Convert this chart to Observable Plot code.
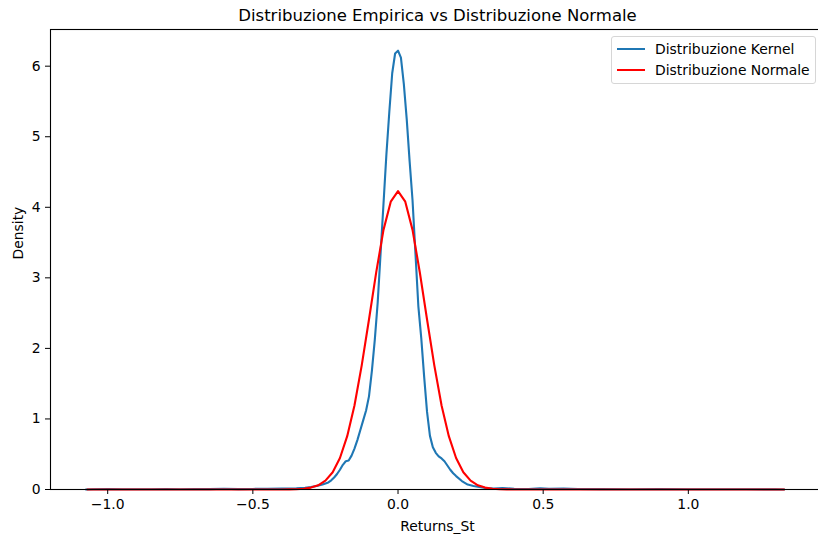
<!DOCTYPE html>
<html>
<head>
<meta charset="utf-8">
<script src="https://cdn.jsdelivr.net/npm/d3@7"></script>
<script src="https://cdn.jsdelivr.net/npm/@observablehq/plot@0.6"></script>
<style>
html, body { margin: 0; padding: 0; overflow: hidden; background: #fff; }
#wrap { position: relative; width: 818px; height: 535px; overflow: hidden; }
#wrap svg { max-width: none !important; display: block; }
#legend { position: absolute; left: 611px; top: 36px; width: 205px; height: 48px; box-sizing: border-box;
  border: 1px solid #d6d6d6; border-radius: 3px; background: rgba(255,255,255,0.85);
  font-family: "DejaVu Sans", sans-serif; font-size: 13.9px; color: #000; }
.row { position: absolute; left: 0; height: 20px; display: flex; align-items: center; }
.sw { width: 28px; height: 2px; margin-left: 5px; margin-right: 10px; }
</style>
</head>
<body>
<div id="wrap"><div id="legend"></div></div>
<script>
const titleText = "Distribuzione Empirica vs Distribuzione Normale";
const xLabel = "Returns_St";
const yLabel = "Density";
const seriesNames = ["Distribuzione Kernel", "Distribuzione Normale"];
const seriesColors = ["#1f77b4", "red"];
const xTicks = [-1.0, -0.5, 0.0, 0.5, 1.0];
const yTicks = [0, 1, 2, 3, 4, 5, 6];

const kernelX = [-1.075,-1.05,-1.0,-0.95,-0.9,-0.85,-0.8,-0.75,-0.7,-0.65,-0.6,-0.55,-0.5,-0.45,-0.4,-0.35,-0.32,-0.3,-0.28,-0.26,-0.24,-0.23,-0.22,-0.21,-0.2,-0.19,-0.18,-0.17,-0.16,-0.15,-0.14,-0.13,-0.12,-0.11,-0.1,-0.09,-0.08,-0.07,-0.06,-0.05,-0.04,-0.03,-0.02,-0.01,0.0,0.01,0.02,0.03,0.04,0.05,0.06,0.07,0.08,0.09,0.1,0.11,0.12,0.13,0.14,0.15,0.16,0.17,0.18,0.19,0.2,0.22,0.24,0.26,0.28,0.3,0.33,0.36,0.4,0.45,0.49,0.52,0.57,0.62,0.7,0.8,0.9,1.0,1.1,1.2,1.3,1.33];
const kernelY = [0.0,0.004,0.005,0.003,0.004,0.003,0.005,0.004,0.006,0.005,0.01,0.006,0.008,0.01,0.012,0.018,0.025,0.035,0.05,0.07,0.10,0.13,0.17,0.22,0.28,0.35,0.40,0.41,0.48,0.58,0.70,0.84,0.98,1.12,1.32,1.68,2.12,2.65,3.35,4.05,4.75,5.35,5.90,6.18,6.22,6.12,5.75,5.25,4.65,4.10,3.35,2.60,2.15,1.60,1.10,0.76,0.60,0.52,0.47,0.44,0.40,0.34,0.28,0.23,0.19,0.12,0.07,0.05,0.035,0.022,0.012,0.02,0.01,0.008,0.018,0.01,0.015,0.008,0.006,0.004,0.005,0.003,0.004,0.003,0.002,0.0];

const normalX = [-1.07,-0.45,-0.425,-0.4,-0.375,-0.35,-0.325,-0.3,-0.275,-0.25,-0.225,-0.2,-0.175,-0.15,-0.125,-0.1,-0.075,-0.05,-0.025,0.0,0.025,0.05,0.075,0.1,0.125,0.15,0.175,0.2,0.225,0.25,0.275,0.3,0.325,0.35,0.375,0.4,0.425,0.45,1.33];
const normalY = [0.0,0.0,0.0001,0.0005,0.0016,0.004,0.011,0.027,0.060,0.126,0.245,0.446,0.756,1.19,1.76,2.41,3.08,3.68,4.08,4.23,4.08,3.68,3.08,2.41,1.76,1.19,0.756,0.446,0.245,0.126,0.060,0.027,0.011,0.004,0.0016,0.0005,0.0001,0.0,0.0];

const kernel = kernelX.map((x, i) => ({x, y: kernelY[i]}));
const normal = normalX.map((x, i) => ({x, y: normalY[i]}));
const fmt = d3.format(".1f");

const chart = Plot.plot({
  width: 824,
  height: 535,
  marginLeft: 50,
  marginRight: 0,
  marginTop: 29,
  marginBottom: 46,
  style: { fontFamily: "DejaVu Sans, sans-serif", fontSize: "13.9px", color: "black", background: "white", maxWidth: "none" },
  x: { domain: [-1.197, 1.469] },
  y: { domain: [0, 6.52] },
  marks: [
    Plot.line(kernel, { x: "x", y: "y", stroke: seriesColors[0], strokeWidth: 2.1 }),
    Plot.line(normal, { x: "x", y: "y", stroke: seriesColors[1], strokeWidth: 2.1 }),
    Plot.frame({ stroke: "black", strokeWidth: 1.1 }),
    Plot.axisX({ ticks: xTicks, tickFormat: fmt, tickSize: 5, tickPadding: 5, label: null, stroke: "black", fill: "black" }),
    Plot.axisY({ ticks: yTicks, tickFormat: d3.format("d"), tickSize: 5, tickPadding: 5, label: null, stroke: "black", fill: "black" }),
    Plot.text([titleText], { text: d => d, frameAnchor: "top", lineAnchor: "middle", dy: -14, fontSize: 16.5, fill: "black" }),
    Plot.text([xLabel], { text: d => d, frameAnchor: "bottom", lineAnchor: "middle", dy: 37, fill: "black" }),
    Plot.text([yLabel], { text: d => d, frameAnchor: "left", lineAnchor: "middle", dx: -31.5, rotate: -90, fill: "black" })
  ]
});
chart.style.maxWidth = "none";
document.getElementById("wrap").insertBefore(chart, document.getElementById("legend"));

const legend = document.getElementById("legend");
seriesNames.forEach((name, i) => {
  const row = document.createElement("div");
  row.className = "row";
  row.style.top = (2 + i * 21) + "px";
  const sw = document.createElement("div");
  sw.className = "sw";
  sw.style.background = seriesColors[i];
  const t = document.createElement("span");
  t.textContent = name;
  row.appendChild(sw);
  row.appendChild(t);
  legend.appendChild(row);
});
</script>
</body>
</html>
